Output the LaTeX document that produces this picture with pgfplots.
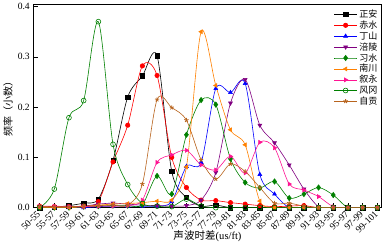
\documentclass[border=0pt]{standalone}
\usepackage{fontspec}
\setmainfont{Liberation Serif}
\newfontfamily\cjk{Noto Sans CJK SC}
\usepackage{graphicx}
\usepackage{pgfplots}
\usepackage{pgfplotstable}
\pgfplotsset{compat=1.18}
\definecolor{cpurple}{RGB}{128,0,128}
\definecolor{cgreen}{RGB}{0,128,0}
\definecolor{corange}{RGB}{255,128,0}
\definecolor{cpink}{RGB}{255,20,147}
\definecolor{cbrown}{RGB}{184,100,30}
\newcommand{\rl}[1]{\rotatebox{45}{#1}}
\pgfplotstableread{
i zhengan chishui dingshan fuling xishui nanchuan xuyong fenggang zigong
0  0     0.003 0     0     0     0     0.003 0     0.002
1  0.001 0.002 0     0     0     0     0.003 0.037 0.002
2  0.004 0.002 0     0.002 0     0     0.002 0.179 0.002
3  0.009 0.003 0     0.003 0.002 0.002 0.002 0.213 0.003
4  0.017 0.012 0.002 0.007 0.003 0.005 0.003 0.370 0.004
5  0.094 0.091 0.003 0.009 0.004 0.007 0.003 0.126 0.005
6  0.220 0.164 0.003 0.007 0.004 0.008 0.004 0.046 0.005
7  0.262 0.282 0.003 0.005 0.006 0.010 0.015 0.008 0.047
8  0.302 0.263 0.003 0.004 0.063 0.013 0.090 0.003 0.215
9  0.072 0.100 0.012 0.003 0.027 0.015 0.105 0.002 0.199
10 0.020 0.040 0.082 0.004 0.145 0.081 0.114 0.017 0.174
11 0.003 0.015 0.090 0.015 0.214 0.350 0.085 0.003 0.095
12 0.005 0.014 0.237 0.070 0.205 0.243 0.075 0     0.057
13 0     0.010 0.229 0.208 0.097 0.155 0.102 0     0.087
14 0     0.007 0.247 0.255 0.050 0.125 0.069 0     0.072
15 0     0.004 0.066 0.164 0.039 0.013 0.130 0     0.040
16 0     0.002 0.027 0.129 0.052 0     0.119 0     0.009
17 0     0.003 0     0.085 0.019 0     0.047 0     0.009
18 0     0.004 0     0.037 0.027 0     0.035 0     0.003
19 0     0     0     0.002 0.040 0     0.022 0     0
20 0     0     0     0     0.025 0     0.002 0     0
21 0     0     0     0     0     0     0     0     0
22 0     0     0     0     0     0     0     0     0
23 0     0     0     0     0     0     0     0     0
}\data
\begin{document}
\begin{tikzpicture}
\begin{axis}[
  scale only axis, width=346.6pt, height=202pt,
  xmin=-0.43, xmax=23.3, ymin=0, ymax=0.404,
  xtick={0,...,23},
  xticklabels={\rl{50-55},\rl{55-57},\rl{57-59},\rl{59-61},\rl{61-63},\rl{63-65},\rl{65-67},\rl{67-69},\rl{69-71},\rl{71-73},\rl{73-75},\rl{75-77},\rl{77-79},\rl{79-81},\rl{81-83},\rl{83-85},\rl{85-87},\rl{87-89},\rl{89-91},\rl{91-93},\rl{93-95},\rl{95-97},\rl{97-99},\rl{99-101}},
  xticklabel style={anchor=north east, font=\fontsize{9.5}{10}\selectfont, inner sep=0.5pt, yshift=-2pt, xshift=2pt},
  ytick={0,0.1,0.2,0.3,0.4},
  yticklabel style={/pgf/number format/fixed, /pgf/number format/fixed zerofill, /pgf/number format/precision=1, font=\fontsize{9.5}{10}\selectfont},
  /pgf/number format/assume math mode=true,
  tick align=inside, tick style={black, thin},
  xtick pos=bottom, ytick pos=left,
  axis line style={black, semithick},
  ylabel={\cjk 频率（小数）}, ylabel style={font=\fontsize{10}{11}\selectfont, yshift=-2pt},
  xlabel={{\cjk 声波时差}(us/ft)}, xlabel style={font=\fontsize{10.5}{11}\selectfont, at={(axis description cs:0.5,0)}, anchor=north, yshift=-23pt, inner sep=0pt},
  legend style={at={(1,1)}, anchor=north east, draw=none, fill=none, font=\cjk\fontsize{9}{10}\selectfont, row sep=-2.2pt, inner sep=1pt, xshift=-1pt, yshift=-2pt},
  legend cell align=left,
  legend image code/.code={\draw[mark repeat=2,mark phase=2,#1] plot coordinates {(0cm,0cm) (0.4cm,0cm) (0.8cm,0cm)};},
  every axis plot/.append style={smooth, tension=0.5, semithick, mark size=2.2pt},
]
\addplot[black, mark=square*] table[x=i, y=zhengan] {\data};
\addlegendentry{正安}
\addplot[red, mark=*, mark options={fill=red}] table[x=i, y=chishui] {\data};
\addlegendentry{赤水}
\addplot[blue, mark=triangle*, mark options={fill=blue}] table[x=i, y=dingshan] {\data};
\addlegendentry{丁山}
\addplot[cpurple, mark=triangle*, mark options={fill=cpurple, rotate=180}] table[x=i, y=fuling] {\data};
\addlegendentry{涪陵}
\addplot[cgreen, mark=diamond*, mark options={fill=cgreen, scale=1.2}] table[x=i, y=xishui] {\data};
\addlegendentry{习水}
\addplot[corange, mark=triangle*, mark options={fill=corange, rotate=90}] table[x=i, y=nanchuan] {\data};
\addlegendentry{南川}
\addplot[cpink, mark=triangle*, mark options={fill=cpink, rotate=-90}] table[x=i, y=xuyong] {\data};
\addlegendentry{叙永}
\addplot[cgreen, mark=o, mark options={fill=white, scale=1.1}] table[x=i, y=fenggang] {\data};
\addlegendentry{风冈}
\addplot[cbrown, mark=star, mark options={thick}] table[x=i, y=zigong] {\data};
\addlegendentry{自贡}
\end{axis}
\end{tikzpicture}
\end{document}
